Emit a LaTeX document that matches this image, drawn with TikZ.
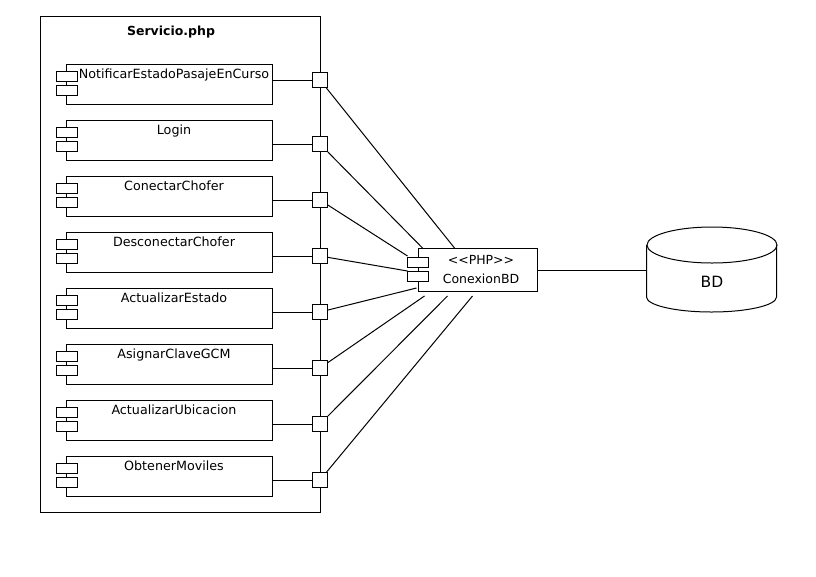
\documentclass[tikz,border=0pt]{standalone}
\usepackage{fontspec}
\setmainfont{DejaVu Sans}

\begin{document}
\begin{tikzpicture}[x=1pt, y=-1pt, line width=1pt, font=\fontsize{12.7}{15}\selectfont]
    \tikzstyle{comp}=[draw,fill=white,minimum width=206pt,minimum height=40pt,inner sep=0pt,anchor=north west]
    \tikzstyle{tab}=[draw,fill=white,minimum width=21pt,minimum height=10pt,inner sep=0pt]
    \tikzstyle{port}=[draw,fill=white,minimum size=15pt,inner sep=0pt]
    \tikzstyle{annot}=[anchor=base,inner sep=0pt]

    \useasboundingbox (0,0) rectangle (816,576);

    % Draw the service container
    \node[draw,minimum width=280pt,minimum height=496pt,inner sep=0pt,anchor=north west] (serv) at (40,16) {};
    \node[font=\bfseries\fontsize{12.5}{15}\selectfont] (title) at (171,32) {Servicio.php};

    % Draw the operation components
    \foreach \txt [count=\i] in {NotificarEstadoPasajeEnCurso,Login,ConectarChofer,DesconectarChofer,ActualizarEstado,AsignarClaveGCM,ActualizarUbicacion,ObtenerMoviles}
    {
        \node[comp] (C-\i) at (66,{8+56*\i}) {};
        \node[annot] (T-\i) at (174,{22+56*\i}) {\txt};
        \node[tab] (CA-\i) at (66.5,{20.5+56*\i}) {};
        \node[tab] (CB-\i) at (66.5,{34+56*\i}) {};
    }

    % Draw the ports on the container border
    \foreach \name / \y in {1/80,2/144,3/200,4/256,5/312,6/368,7/424,8/480}
        \node[port] (P-\name) at (320,\y) {};

    % Connect every component with its port
    \foreach \i in {1,...,8}
        \draw (P-\i.west -| C-\i.east) -- (P-\i.west);

    % Draw the database connection component
    \node[draw,fill=white,minimum width=119pt,minimum height=43pt,inner sep=0pt,
          align=center,font=\fontsize{12.5}{19}\selectfont] (conn) at (477.5,270)
        {\hspace*{7pt}<{}<PHP>{}>\\\hspace*{7pt}ConexionBD};
    \node[tab] (connA) at (418,262) {};
    \node[tab] (connB) at (418,276) {};

    % Draw the database
    \node[minimum width=130pt,minimum height=85pt,inner sep=0pt] (bd) at (712,270) {};
    \draw (bd.center) ++(0,-25) ellipse [x radius=65pt, y radius=18pt];
    \draw (bd.west) ++(0,-25) -- ++(0,52) arc [start angle=180, end angle=360, x radius=65pt, y radius=15pt] -- ++(0,-52);
    \node[font=\fontsize{15.5}{18}\selectfont] (bdtxt) at (712,282) {BD};

    % Connect the connection component with the database
    \draw (conn.east) -- (bd.west);

    % Connect every port with the connection component
    \foreach \name / \dx / \dy in {1/37/0,2/5/0,3/-10/8,4/-10/23,5/-1/40,6/7/48,7/30/48,8/55/48}
        \coordinate (E-\name) at ([shift={(\dx,\dy)}]conn.north west);
    \foreach \i in {1,...,8}
        \draw (P-\i) -- (E-\i);
\end{tikzpicture}
\end{document}
